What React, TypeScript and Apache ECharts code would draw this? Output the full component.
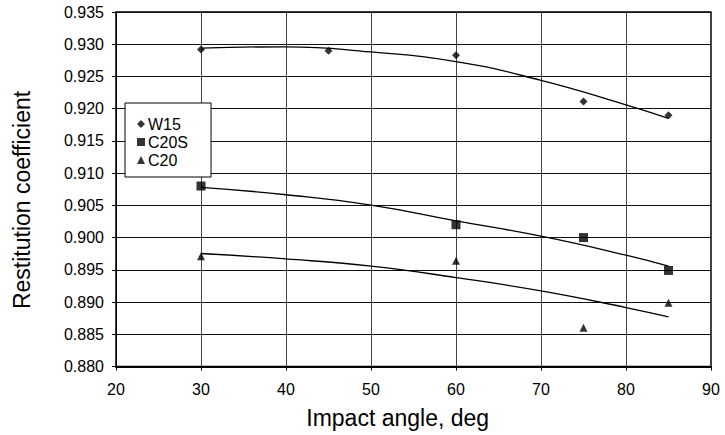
import React, { useEffect, useRef } from "react";
import * as echarts from "echarts";

const angles = [30, 45, 60, 75, 85];
const w15 = [0.9292, 0.929, 0.9283, 0.9211, 0.919];
const c20sAngles = [30, 60, 75, 85];
const c20s = [0.908, 0.902, 0.9, 0.8949];
const c20Angles = [30, 60, 75, 85];
const c20 = [0.8971, 0.8964, 0.886, 0.8899];

const trendAngles = [30, 40, 50, 60, 70, 80, 85];
const w15Trend = [0.9294, 0.9296, 0.9288, 0.9273, 0.9244, 0.9206, 0.9185];
const c20sTrend = [0.9078, 0.90665, 0.90503, 0.90259, 0.90022, 0.89727, 0.89556];
const c20Trend = [0.89753, 0.89669, 0.89556, 0.8938, 0.89173, 0.88915, 0.88769];

const FONT = 'Arial, "Liberation Sans", sans-serif';

const pairs = (xs: number[], ys: number[]) => xs.map((x, i) => [x, ys[i]]);

export default function App() {
  const ref = useRef<HTMLDivElement>(null);
  useEffect(() => {
    if (!ref.current) return;
    const chart = echarts.init(ref.current, undefined, { renderer: "svg" });
    const trendStyle = { color: "#000", width: 1.3 };
    chart.setOption({
      animation: false,
      backgroundColor: "#fff",
      grid: {
        left: 116,
        right: 14,
        top: 12,
        bottom: 68.5,
        show: true,
        borderColor: "#000",
        borderWidth: 1.5,
        backgroundColor: "transparent",
      },
      xAxis: {
        type: "value",
        min: 20,
        max: 90,
        interval: 10,
        axisLine: { show: true, lineStyle: { color: "#000", width: 2 } },
        axisTick: { show: true, length: 4, lineStyle: { color: "#000" } },
        axisLabel: { color: "#000", fontSize: 16, fontFamily: FONT, margin: 15 },
        splitLine: { show: true, lineStyle: { color: "#444", width: 1 } },
      },
      yAxis: {
        type: "value",
        min: 0.88,
        max: 0.935,
        interval: 0.005,
        axisLine: { show: true, lineStyle: { color: "#000", width: 1 } },
        axisTick: { show: true, length: 4, lineStyle: { color: "#000" } },
        axisLabel: {
          color: "#000",
          fontSize: 16,
          fontFamily: FONT,
          margin: 12,
          formatter: (v: number) => v.toFixed(3),
        },
        splitLine: { show: true, lineStyle: { color: "#111", width: 1 } },
      },
      legend: {
        show: true,
        data: ["W15", "C20S", "C20"],
        orient: "vertical",
        left: 125,
        top: 103,
        backgroundColor: "#fff",
        borderColor: "#000",
        borderWidth: 1,
        padding: [13, 23, 9, 12],
        itemWidth: 8,
        itemHeight: 8,
        itemGap: 2,
        textStyle: { color: "#000", fontSize: 16, fontFamily: FONT, padding: [0, 0, 0, -2] },
      },
      graphic: [
        {
          type: "text",
          x: 397.7,
          y: 417.5,
          style: {
            text: "Impact angle, deg",
            fontSize: 23,
            fontFamily: FONT,
            fill: "#000",
            textAlign: "center",
            textVerticalAlign: "middle",
          },
        },
        {
          type: "text",
          x: 22,
          y: 200,
          rotation: Math.PI / 2,
          style: {
            text: "Restitution coefficient",
            fontSize: 23,
            fontFamily: FONT,
            fill: "#000",
            textAlign: "center",
            textVerticalAlign: "middle",
          },
        },
      ],
      series: [
        {
          name: "W15 trend",
          type: "line",
          data: pairs(trendAngles, w15Trend),
          smooth: true,
          symbol: "none",
          lineStyle: trendStyle,
          z: 3,
        },
        {
          name: "C20S trend",
          type: "line",
          data: pairs(trendAngles, c20sTrend),
          smooth: true,
          symbol: "none",
          lineStyle: trendStyle,
          z: 3,
        },
        {
          name: "C20 trend",
          type: "line",
          data: pairs(trendAngles, c20Trend),
          smooth: true,
          symbol: "none",
          lineStyle: trendStyle,
          z: 3,
        },
        {
          name: "W15",
          type: "scatter",
          data: pairs(angles, w15),
          symbol: "diamond",
          symbolSize: 8,
          itemStyle: { color: "#000" },
          z: 4,
        },
        {
          name: "C20S",
          type: "scatter",
          data: pairs(c20sAngles, c20s),
          symbol: "rect",
          symbolSize: 9,
          itemStyle: { color: "#000" },
          z: 4,
        },
        {
          name: "C20",
          type: "scatter",
          data: pairs(c20Angles, c20),
          symbol: "triangle",
          symbolSize: 8,
          itemStyle: { color: "#000" },
          z: 4,
        },
      ],
    });
    return () => chart.dispose();
  }, []);
  return <div ref={ref} style={{ width: 725, height: 435, position: "absolute", left: 0, top: 0 }} />;
}
